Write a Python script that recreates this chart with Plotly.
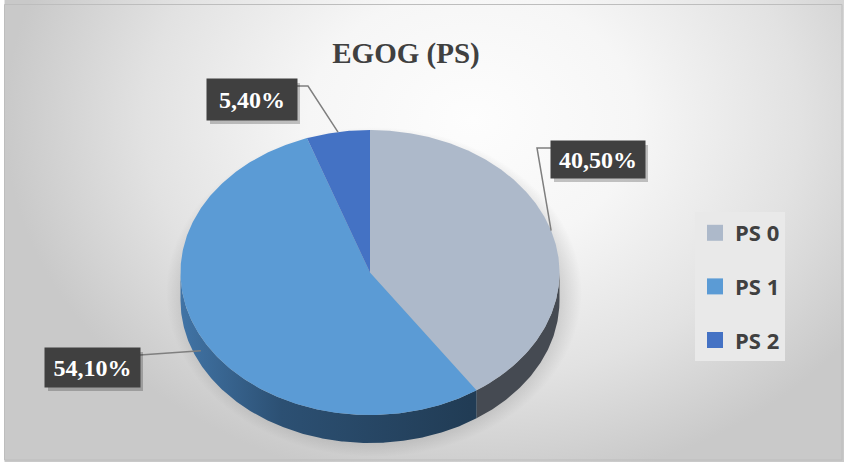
import numpy as np
import plotly.graph_objects as go

# ---- data ----
labels = ["PS 0", "PS 1", "PS 2"]
values = [40.5, 54.1, 5.4]
colors = ["#adb9ca", "#5b9bd5", "#4472c4"]
side_colors = ["#454a52", "#2a4d70", "#2b4a80"]
title_text = "EGOG (PS)"

# ---- geometry (pixel space) ----
W, H = 844, 462
CX, CY, RX, RY, DEPTH = 370, 272.5, 189.5, 142.5, 28


def edge(theta, dy=0.0):
    t = np.radians(theta)
    return CX + RX * np.sin(t), CY - RY * np.cos(t) + dy


def arc(a, b, dy=0.0):
    n = max(3, int(abs(b - a) * 2))
    th = np.linspace(a, b, n)
    return edge(th, dy)


fig = go.Figure()

# background with radial gradient
bx = [4.5, 940, 940, 4.5, 4.5]
by = [-250, -250, 490, 490, -250]
fig.add_trace(go.Scatter(
    x=bx, y=by, fill="toself", mode="lines", line=dict(width=0),
    fillgradient=dict(type="radial",
                      colorscale=[[0, "#fdfdfd"], [0.35, "#f6f6f6"], [0.7, "#e2e2e2"], [1, "#c9c9c9"]]),
    hoverinfo="skip", showlegend=False))

# soft shadow below the pie
sh_t = np.linspace(0, 360, 361)
shx = 374 + 208 * np.sin(np.radians(sh_t))
shy = 292 - 165 * np.cos(np.radians(sh_t))
fig.add_trace(go.Scatter(
    x=shx, y=shy, fill="toself", mode="lines", line=dict(width=0),
    fillgradient=dict(type="radial",
                      colorscale=[[0, "rgba(0,0,0,0.22)"], [0.86, "rgba(0,0,0,0.16)"], [1, "rgba(0,0,0,0)"]]),
    hoverinfo="skip", showlegend=False))

total = float(sum(values))
cum = np.concatenate([[0.0], np.cumsum(values)]) / total * 360.0

# sides (3D depth) for the front half
for i, (a, b) in enumerate(zip(cum[:-1], cum[1:])):
    lo, hi = max(a, 90.0), min(b, 270.0)
    if lo >= hi:
        continue
    tx, ty = arc(lo, hi)
    bx2, by2 = arc(hi, lo, DEPTH)
    xs = np.concatenate([tx, bx2, tx[:1]])
    ys = np.concatenate([ty, by2, ty[:1]])
    kw = {}
    if i == 1:
        kw["fillgradient"] = dict(type="horizontal", start=180, stop=470,
                                  colorscale=[[0, "#4174a6"], [0.35, "#2c5073"], [1, "#213c55"]])
    else:
        kw["fillcolor"] = side_colors[i]
    fig.add_trace(go.Scatter(x=xs, y=ys, fill="toself", mode="lines", line=dict(width=0),
                             hoverinfo="skip", showlegend=False, **kw))

# top faces
for i, (a, b) in enumerate(zip(cum[:-1], cum[1:])):
    tx, ty = arc(a, b)
    xs = np.concatenate([[CX], tx, [CX]])
    ys = np.concatenate([[CY], ty, [CY]])
    fig.add_trace(go.Scatter(x=xs, y=ys, fill="toself", mode="lines", line=dict(width=0),
                             fillcolor=colors[i], hoverinfo="skip", showlegend=False))

# legend entries
for i, lab in enumerate(labels):
    fig.add_trace(go.Scatter(x=[None], y=[None], mode="markers", name="<b>%s</b>" % lab,
                             marker=dict(symbol="square", size=18, color=colors[i]),
                             legendgroup="g%d" % i))

# data labels with leader lines
label_boxes = {  # index: (center x, center y, width, height, attach points)
    0: (598, 159.5, 94, 37, [(551, 148), (537, 148)]),
    1: (92.5, 367.5, 95, 39, [(140, 355)]),
    2: (252, 99.5, 90, 41, [(297, 86), (308, 86)]),
}
shapes = []
annotations = []
for i, v in enumerate(values):
    mid = (cum[i] + cum[i + 1]) / 2.0
    dy = DEPTH / 2.0 if 90 < mid < 270 else 0.0
    ax_, ay_ = edge(mid, dy)
    cx, cy, w, h, pts = label_boxes[i]
    lx = [p[0] for p in pts] + [float(ax_)]
    ly = [p[1] for p in pts] + [float(ay_)]
    fig.add_trace(go.Scatter(x=lx, y=ly, mode="lines", line=dict(color="#7f7f7f", width=1.5),
                             hoverinfo="skip", showlegend=False))
    shapes.append(dict(type="rect", xref="x", yref="y", x0=cx - w / 2 + 3, x1=cx + w / 2 + 3,
                       y0=cy - h / 2 + 4, y1=cy + h / 2 + 4, line=dict(width=0),
                       fillcolor="rgba(0,0,0,0.22)", layer="above"))
    txt = ("%.2f" % v).replace(".", ",") + "%"
    annotations.append(dict(x=cx, y=cy, xref="x", yref="y", text="<b>%s</b>" % txt, showarrow=False,
                            font=dict(family="Liberation Serif", size=24, color="white"),
                            bgcolor="#404040", width=w, height=h, borderpad=0, align="center",
                            valign="middle"))

# outer border
shapes.append(dict(type="rect", xref="x", yref="y", x0=4.5, x1=842, y0=4.5, y1=460,
                   line=dict(color="#bdbdbd", width=1), fillcolor="rgba(0,0,0,0)", layer="above"))

fig.update_layout(
    width=W, height=H, margin=dict(l=0, r=0, t=0, b=0),
    paper_bgcolor="white", plot_bgcolor="white",
    xaxis=dict(range=[0, W], visible=False, fixedrange=True),
    yaxis=dict(range=[H, 0], visible=False, fixedrange=True),
    title=dict(text="<b>%s</b>" % title_text, x=406 / W, y=1 - 53 / H, xanchor="center", yanchor="middle",
               font=dict(family="Liberation Serif", size=29, color="#404040")),
    legend=dict(x=695 / W, y=1 - 212 / H, xanchor="left", yanchor="top", bgcolor="#e9e9e9",
                font=dict(family="Open Sans", size=22, color="#404040"), tracegroupgap=22),
    shapes=shapes, annotations=annotations, showlegend=True,
)

fig.write_html("out.html")
